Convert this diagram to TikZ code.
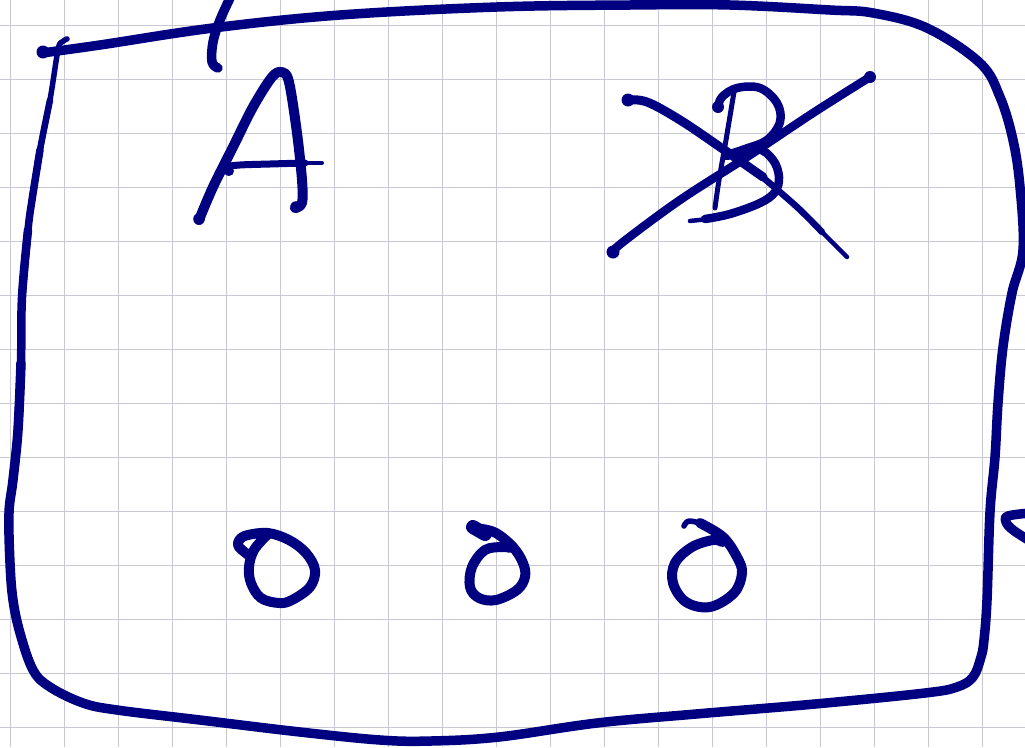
\documentclass[tikz,border=0pt]{standalone}
\begin{document}
\definecolor{ink}{RGB}{0,0,128}
\definecolor{gridc}{RGB}{200,200,210}
\tikzset{
  pen/.style={draw=ink, line width=#1, line cap=round, line join=round},
  pen/.default=10,
  gridline/.style={draw=gridc, line width=1},
  blob/.style={fill=ink, draw=none}
}
\begin{tikzpicture}[x=1pt,y=-1pt]
\useasboundingbox (0,0) rectangle (1025,747);
\fill[white] (0,0) rectangle (1025,747);
% grid
\foreach \gx in {10,64,...,1000} \draw[gridline] (\gx,0) -- (\gx,747);
\foreach \gy in {25,79,...,740} \draw[gridline] (0,\gy) -- (1025,\gy);
% frame
\draw[pen=9.5] plot[smooth, tension=0.6] coordinates {(42,53) (100,45) (213,28) (340,15) (497,7) (630,5) (730,5) (830,10) (873,13) (927,28) (980,63) (1000,97) (1013,140) (1020,187) (1023,250) (1012,293) (1003,347) (998,403) (995,457) (990,512) (987,600) (984,640) (981,657) (973,677) (957,687) (925,693) (815,704) (696,714) (597,723) (499,737) (431,741) (380,740) (300,732) (200,720) (117,710) (83,703) (50,687) (33,670) (20,633) (13,600) (10,563) (9,513) (13,480) (18,430) (21,363)};
\draw[pen=8.5] plot[smooth, tension=0.6] coordinates {(18,430) (21,363) (22,297) (28,230)};
\draw[pen=7.5] plot[smooth, tension=0.6] coordinates {(22,297) (28,230) (32,200) (40,150)};
\draw[pen=6.5] plot[smooth, tension=0.6] coordinates {(32,200) (40,150) (50,100)};
\draw[pen=5.5] plot[smooth, tension=0.6] coordinates {(40,150) (50,100) (58,50) (62,42) (67,39)};
\fill[blob] (43,52) circle (6.5);
% top small stroke
\draw[pen=9.5] plot[smooth, tension=0.6] coordinates {(231,-4) (220,20) (213,42) (212,62) (218,68)};
% letter A
\draw[pen=10] plot[smooth, tension=0.55] coordinates {(199,220) (213,187) (233,147) (253,107) (272,77) (282,72) (289,82) (297,133) (302,180) (302,203) (295,208)};
\fill[blob] (199,219) circle (5.8);
\fill[blob] (296,207) circle (5.8);
\draw[pen=7] plot[smooth, tension=0.6] coordinates {(228,172) (228,167) (240,165) (270,164) (305,163)};
\draw[pen=4] (300,163) -- (322,163);
\fill[blob] (229,171) circle (5);
% letter B
\draw[pen=5] plot[smooth, tension=0.6] coordinates {(734,92) (726,140) (719,180) (715,208)};
\draw[pen=8.5] plot[smooth, tension=0.6] coordinates {(718,107) (722,97) (737,88) (760,88) (777,103) (780,122) (767,140) (745,149) (727,155)};
\draw[pen=8.5] plot[smooth, tension=0.6] coordinates {(727,156) (757,149) (773,160) (779,177) (775,192) (760,203) (730,214) (705,219)};
\draw[pen=4.5] (708,219) -- (690,221);
\fill[blob] (718,107) circle (6);
% cross over B
\draw[pen=9] plot[smooth, tension=0.6] coordinates {(627,100) (647,102) (680,120) (720,147) (763,177)};
\draw[pen=6.5] plot[smooth, tension=0.6] coordinates {(760,175) (797,207) (822,232)};
\draw[pen=4.5] (820,230) -- (847,257);
\fill[blob] (628,100) circle (6.5);
\draw[pen=8.5] plot[smooth, tension=0.6] coordinates {(612,253) (623,242) (680,200) (747,157) (813,113) (870,77)};
\fill[blob] (613,252) circle (6.5);
\fill[blob] (870,77) circle (6);
% loops
\draw[pen=10] plot[smooth, tension=0.6] coordinates {(251,557) (242,550) (238,545) (240,539) (248,535) (268,533) (289,540) (306,553) (315,570) (310,587) (292,600) (279,603) (261,598) (251,583) (249,567) (254,550) (267,535)};
\draw[pen=14] (473,527) -- (485,534);
\draw[pen=10] plot[smooth, tension=0.6] coordinates {(482,529) (496,533) (513,547) (523,563) (525,577) (517,590) (496,600) (479,598) (470,587) (472,567) (485,550) (503,547) (510,548)};
\draw[pen=5.5] plot[smooth, tension=0.6] coordinates {(684,526) (689,521) (703,524)};
\draw[pen=10] plot[smooth, tension=0.6] coordinates {(700,523) (723,537) (737,557) (742,573) (734,593) (710,607) (686,602) (673,583) (675,563) (692,547) (713,540) (722,542)};
% right edge partial
\draw[pen=9.5] plot[smooth, tension=0.6] coordinates {(1030,513) (1008,516) (1006,522) (1013,530) (1030,541)};
\end{tikzpicture}
\end{document}
